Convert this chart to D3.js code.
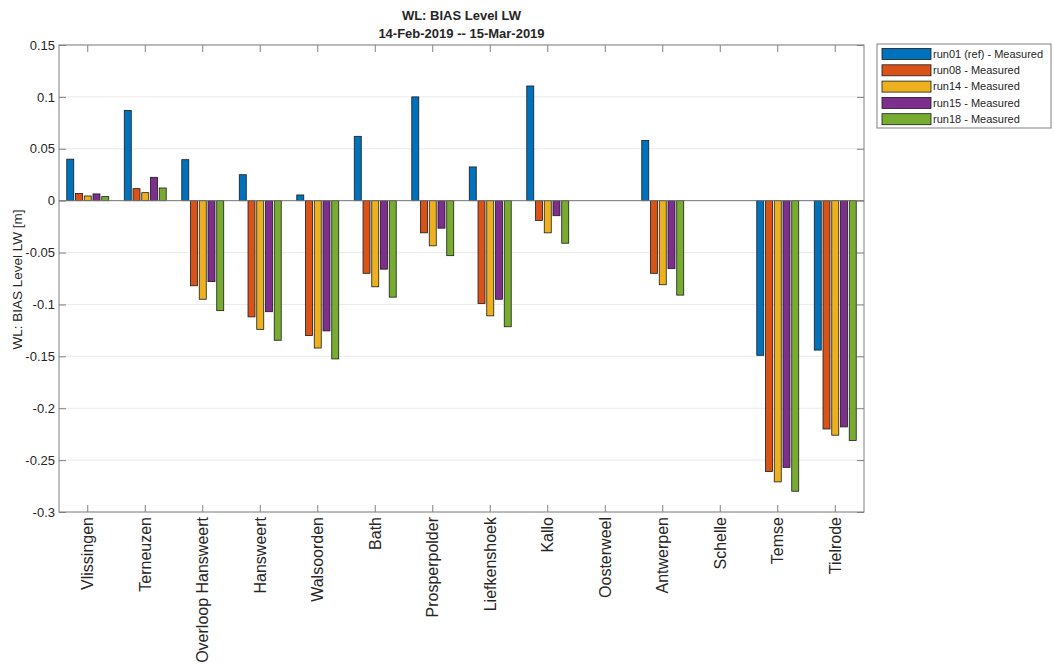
<!DOCTYPE html>
<html>
<head>
<meta charset="utf-8">
<script src="https://cdn.jsdelivr.net/npm/d3@7"></script>
<style>
  body { margin: 0; background: #fff; }
  text { font-family: "Liberation Sans", Arial, sans-serif; fill: #262626; }
</style>
</head>
<body>
<div id="chart"></div>
<script>
// stations along the estuary
var stations = ["Vlissingen", "Terneuzen", "Overloop Hansweert", "Hansweert", "Walsoorden",
  "Bath", "Prosperpolder", "Liefkenshoek", "Kallo", "Oosterweel", "Antwerpen", "Schelle",
  "Temse", "Tielrode"];

var seriesNames = ["run01 (ref) - Measured", "run08 - Measured", "run14 - Measured",
  "run15 - Measured", "run18 - Measured"];
var seriesColors = ["#0072BD", "#D95319", "#EDB120", "#7E2F8E", "#77AC30"];

// bias values [m], null = no data
var run01 = [0.040, 0.087, 0.0395, 0.025, 0.0055, 0.062, 0.100, 0.0325, 0.1105, null, 0.058, null, -0.149, -0.144];
var run08 = [0.007, 0.0116, -0.082, -0.112, -0.130, -0.070, -0.031, -0.099, -0.019, null, -0.070, null, -0.261, -0.220];
var run14 = [0.0045, 0.0077, -0.095, -0.124, -0.142, -0.083, -0.0435, -0.111, -0.031, null, -0.081, null, -0.271, -0.226];
var run15 = [0.0065, 0.0225, -0.078, -0.107, -0.1255, -0.066, -0.0265, -0.095, -0.0145, null, -0.0655, null, -0.257, -0.218];
var run18 = [0.0039, 0.0122, -0.106, -0.1345, -0.1525, -0.093, -0.053, -0.1215, -0.041, null, -0.091, null, -0.280, -0.231];
var allRuns = [run01, run08, run14, run15, run18];

var yTicks = [0.15, 0.1, 0.05, 0, -0.05, -0.1, -0.15, -0.2, -0.25, -0.3];

var W = 1054, H = 666;
var margin = {left: 59, right: 190, top: 45, bottom: 154};
var plotW = W - margin.left - margin.right,
    plotH = H - margin.top - margin.bottom;

var svg = d3.select("#chart").append("svg")
  .attr("width", W).attr("height", H);

var g = svg.append("g")
  .attr("transform", `translate(${margin.left},${margin.top})`);

var x0 = d3.scaleBand().domain(stations).range([0, plotW]);
var groupW = x0.bandwidth() * 0.76;
var x1 = d3.scaleBand().domain(d3.range(5))
  .range([(x0.bandwidth() - groupW) / 2, (x0.bandwidth() + groupW) / 2])
  .paddingInner(0.2).paddingOuter(0.1);

var y = d3.scaleLinear().domain([-0.3, 0.15]).range([plotH, 0]);

// grid
g.selectAll(".grid").data(yTicks).enter().append("line")
  .attr("x1", 0).attr("x2", plotW)
  .attr("y1", d => y(d)).attr("y2", d => y(d))
  .attr("stroke", "#ebebeb").attr("stroke-width", 1);

// flatten data
var bars = [];
stations.forEach(function(s, i) {
  allRuns.forEach(function(run, k) {
    if (run[i] !== null) bars.push({station: s, k: k, value: run[i]});
  });
});

g.selectAll("rect.bar").data(bars).enter().append("rect")
  .attr("class", "bar")
  .attr("x", d => x0(d.station) + x1(d.k))
  .attr("width", x1.bandwidth())
  .attr("y", d => y(Math.max(0, d.value)))
  .attr("height", d => Math.abs(y(d.value) - y(0)))
  .attr("fill", d => seriesColors[d.k])
  .attr("stroke", "#1a1a1a").attr("stroke-width", 0.8);

// baseline
g.append("line")
  .attr("x1", 0).attr("x2", plotW)
  .attr("y1", y(0)).attr("y2", y(0))
  .attr("stroke", "#777").attr("stroke-width", 1);

// axes (ticks inside, box on)
var fmt = d => d === 0 ? "0" : String(d).replace("\u2212", "-");
var axisColor = "#808080";

var yAxis = g.append("g")
  .call(d3.axisLeft(y).tickValues(yTicks).tickSize(-7).tickPadding(4).tickFormat(fmt));
var yAxisR = g.append("g").attr("transform", `translate(${plotW},0)`)
  .call(d3.axisRight(y).tickValues(yTicks).tickSize(-7).tickFormat(""));
var xAxis = g.append("g").attr("transform", `translate(0,${plotH})`)
  .call(d3.axisBottom(x0).tickSize(-7).tickSizeOuter(0));
var xAxisT = g.append("g")
  .call(d3.axisTop(x0).tickSize(-7).tickSizeOuter(0).tickFormat(""));

[yAxis, yAxisR, xAxis, xAxisT].forEach(function(a) {
  a.selectAll("path, line").attr("stroke", axisColor);
  a.select(".domain").remove();
});
yAxis.selectAll("text").attr("font-size", "13px").attr("fill", "#262626")
  .attr("font-family", "Liberation Sans, Arial, sans-serif").attr("x", -4);

xAxis.selectAll("text")
  .attr("font-size", "16px").attr("fill", "#262626")
  .attr("font-family", "Liberation Sans, Arial, sans-serif")
  .attr("transform", "rotate(-90)")
  .attr("text-anchor", "end")
  .attr("x", -5).attr("y", 0).attr("dy", "0.35em");

// frame
g.append("rect").attr("width", plotW).attr("height", plotH)
  .attr("fill", "none").attr("stroke", axisColor).attr("stroke-width", 1);

// axis label
svg.append("text")
  .attr("transform", `translate(22,${margin.top + plotH / 2 + 1}) rotate(-90)`)
  .attr("text-anchor", "middle")
  .attr("font-size", "13.5px")
  .text("WL: BIAS Level LW [m]");

// title
svg.append("text").attr("x", margin.left + plotW / 2).attr("y", 20)
  .attr("text-anchor", "middle").attr("font-size", "13px").attr("font-weight", "bold")
  .text("WL: BIAS Level LW");
svg.append("text").attr("x", margin.left + plotW / 2).attr("y", 38)
  .attr("text-anchor", "middle").attr("font-size", "13px").attr("font-weight", "bold")
  .text("14-Feb-2019 -- 15-Mar-2019");

// legend
var lg = svg.append("g").attr("transform", "translate(877,44)");
lg.append("rect").attr("width", 174).attr("height", 84)
  .attr("fill", "#fff").attr("stroke", "#808080").attr("stroke-width", 1);
var items = lg.selectAll(".item").data(seriesNames).enter().append("g")
  .attr("transform", (d, i) => `translate(0,${10 + i * 16.3})`);
items.append("rect").attr("x", 5).attr("y", -5.5).attr("width", 49).attr("height", 11)
  .attr("fill", (d, i) => seriesColors[i]).attr("stroke", "#1a1a1a").attr("stroke-width", 0.8);
items.append("text").attr("x", 56).attr("dy", "0.35em")
  .attr("font-size", "11px").text(d => d);
</script>
</body>
</html>
